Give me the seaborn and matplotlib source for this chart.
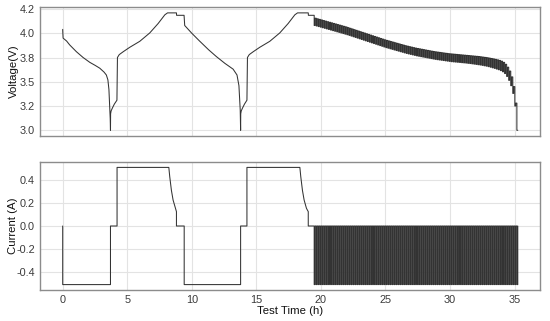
import numpy as np
import pandas as pd
import matplotlib
matplotlib.use("Agg")
import matplotlib.pyplot as plt
import seaborn as sns

# ---------------- data ----------------
# Voltage before the pulse section: time (h) and voltage (V)
pre_t = [0.00, 0.00, 0.03, 0.30, 0.54, 1.06, 1.58, 2.10, 2.50, 2.87, 3.20, 3.38, 3.50, 3.58, 3.63, 3.68, 3.70,
         3.71, 3.75, 3.85, 4.00, 4.20,
         4.24, 4.38, 4.69, 5.19, 5.97, 6.74, 7.39, 7.91, 8.12, 8.81,
         8.82, 9.40,
         9.45, 10.00, 10.60, 11.30, 11.90, 12.56, 13.20, 13.50, 13.65, 13.75, 13.78,
         13.79, 13.83, 13.93, 14.08, 14.27,
         14.31, 14.45, 14.76, 15.26, 16.04, 16.81, 17.46, 17.98, 18.19, 19.02,
         19.03, 19.48]
pre_v = [4.04, 4.03, 3.95, 3.92, 3.88, 3.81, 3.75, 3.70, 3.67, 3.64, 3.60, 3.57, 3.52, 3.42, 3.28, 3.12, 3.00,
         3.17, 3.20, 3.23, 3.27, 3.31,
         3.75, 3.78, 3.81, 3.855, 3.917, 4.003, 4.10, 4.19, 4.21, 4.21,
         4.185, 4.185,
         4.08, 4.00, 3.92, 3.83, 3.76, 3.69, 3.63, 3.57, 3.46, 3.21, 3.00,
         3.17, 3.20, 3.23, 3.27, 3.31,
         3.75, 3.78, 3.81, 3.855, 3.917, 4.003, 4.10, 4.19, 4.21, 4.21,
         4.185, 4.185]

# Current before the pulse section: time (h) and current (A)
cur_t = [0.00, 0.00, 3.70, 3.70, 4.21, 4.21, 8.22, 8.29, 8.42, 8.55, 8.73, 8.81, 8.81, 9.41, 9.41,
         13.78, 13.78, 14.27, 14.27, 18.37, 18.44, 18.57, 18.70, 18.88, 19.02, 19.02, 19.48]
cur_i = [0.00, -0.51, -0.51, 0.00, 0.00, 0.51, 0.51, 0.43, 0.31, 0.226, 0.154, 0.125, 0.00, 0.00, -0.51,
         -0.51, 0.00, 0.00, 0.51, 0.51, 0.43, 0.31, 0.226, 0.154, 0.125, 0.00, 0.00]

# Pulse discharge section
pulse_start = 19.48
pulse_end = 35.25
pulse_current = -0.51
# Rest (upper) voltage of each pulse
pulse_rest_v = [
    4.170, 4.155, 4.149, 4.143, 4.137, 4.131, 4.125, 4.119, 4.113, 4.107,
    4.101, 4.095, 4.089, 4.083, 4.077, 4.071, 4.065, 4.058, 4.051, 4.044,
    4.037, 4.030, 4.023, 4.016, 4.009, 4.002, 3.995, 3.988, 3.981, 3.974,
    3.967, 3.960, 3.953, 3.946, 3.939, 3.932, 3.926, 3.920, 3.914, 3.908,
    3.902, 3.896, 3.890, 3.884, 3.878, 3.872, 3.867, 3.862, 3.857, 3.852,
    3.847, 3.843, 3.839, 3.835, 3.831, 3.827, 3.823, 3.819, 3.815, 3.811,
    3.808, 3.805, 3.802, 3.799, 3.796, 3.793, 3.790, 3.788, 3.786, 3.784,
    3.782, 3.780, 3.778, 3.776, 3.774, 3.772, 3.770, 3.768, 3.766, 3.764,
    3.762, 3.760, 3.757, 3.754, 3.751, 3.748, 3.744, 3.740, 3.736, 3.731,
    3.726, 3.720, 3.712, 3.700, 3.680, 3.650, 3.610, 3.550, 3.450, 3.280]
# Loaded (lower) voltage of each pulse
pulse_load_v = [
    4.080, 4.075, 4.069, 4.063, 4.057, 4.051, 4.045, 4.039, 4.033, 4.027,
    4.021, 4.015, 4.009, 4.003, 3.997, 3.991, 3.985, 3.978, 3.971, 3.964,
    3.957, 3.950, 3.943, 3.936, 3.929, 3.922, 3.915, 3.908, 3.901, 3.894,
    3.887, 3.880, 3.873, 3.866, 3.859, 3.852, 3.846, 3.840, 3.834, 3.828,
    3.822, 3.816, 3.810, 3.804, 3.798, 3.792, 3.787, 3.782, 3.777, 3.772,
    3.767, 3.763, 3.759, 3.755, 3.751, 3.747, 3.743, 3.739, 3.735, 3.731,
    3.728, 3.725, 3.722, 3.719, 3.716, 3.713, 3.710, 3.707, 3.705, 3.703,
    3.701, 3.699, 3.697, 3.695, 3.693, 3.690, 3.688, 3.685, 3.682, 3.679,
    3.676, 3.673, 3.669, 3.665, 3.661, 3.656, 3.650, 3.644, 3.638, 3.631,
    3.624, 3.615, 3.603, 3.585, 3.555, 3.515, 3.460, 3.380, 3.250, 3.000]

x_ticks = [0, 5, 10, 15, 20, 25, 30, 35]
v_ticks = [3.0, 3.25, 3.5, 3.75, 4.0, 4.25]
v_tick_labels = ["3.0", "3.2", "3.5", "3.8", "4.0", "4.2"]
i_ticks = [-0.4, -0.2, 0.0, 0.2, 0.4]
i_tick_labels = ["-0.4", "-0.2", "0.0", "0.2", "0.4"]

# ---------------- build the pulse train ----------------
n_p = len(pulse_rest_v)
pulse_on = 0.07
period = (pulse_end - pulse_start - pulse_on) / (n_p - 1)

vt, vv = list(pre_t), list(pre_v)
it, ii = list(cur_t), list(cur_i)
for k in range(n_p):
    ts = pulse_start + k * period
    te = ts + pulse_on
    vt += [ts, ts, te]
    vv += [pulse_rest_v[k], pulse_load_v[k], pulse_load_v[k]]
    it += [ts, ts, te, te]
    ii += [0.0, pulse_current, pulse_current, 0.0]
    if k < n_p - 1:
        vt += [te]
        vv += [pulse_rest_v[k + 1]]

dfv = pd.DataFrame({"t": vt, "v": vv})
dfi = pd.DataFrame({"t": it, "i": ii})

# ---------------- plot ----------------
sns.set_theme(style="whitegrid")
plt.rcParams["font.family"] = ["Liberation Sans", "DejaVu Sans"]

fig = plt.figure(figsize=(5.5, 3.21), dpi=100)
ax1 = fig.add_axes([0.0727, 0.576, 0.9091, 0.402])
ax2 = fig.add_axes([0.0727, 0.0966, 0.9091, 0.3987])

lc = "#333333"
sns.lineplot(data=dfv, x="t", y="v", ax=ax1, color=lc, linewidth=0.75, sort=False, estimator=None)
sns.lineplot(data=dfi, x="t", y="i", ax=ax2, color=lc, linewidth=0.75, sort=False, estimator=None)

for ax in (ax1, ax2):
    ax.set_xlim(-1.76, 36.97)
    ax.set_xticks(x_ticks)
    ax.grid(True, color="#e3e3e3", linewidth=0.8)
    for s in ax.spines.values():
        s.set_color("#8c8c8c")
        s.set_linewidth(1.0)
    ax.tick_params(axis="both", length=0, labelsize=7.8, colors="#3a3a3a", pad=3.5)

ax1.set_ylim(2.94, 4.27)
ax1.set_yticks(v_ticks)
ax1.set_yticklabels(v_tick_labels)
ax1.set_xticklabels([])
ax1.set_xlabel("")
ax1.set_ylabel("Voltage(V)", fontsize=8.2, color="#111111")
ax1.yaxis.set_label_coords(-0.043, 0.5)

ax2.set_ylim(-0.557, 0.557)
ax2.set_yticks(i_ticks)
ax2.set_yticklabels(i_tick_labels)
ax2.set_xticklabels([str(x) for x in x_ticks])
ax2.set_xlabel("Test Time (h)", fontsize=8.2, color="#111111", labelpad=1)
ax2.set_ylabel("Current (A)", fontsize=8.2, color="#111111")
ax2.yaxis.set_label_coords(-0.043, 0.5)

fig.savefig("out.png", dpi=100)
